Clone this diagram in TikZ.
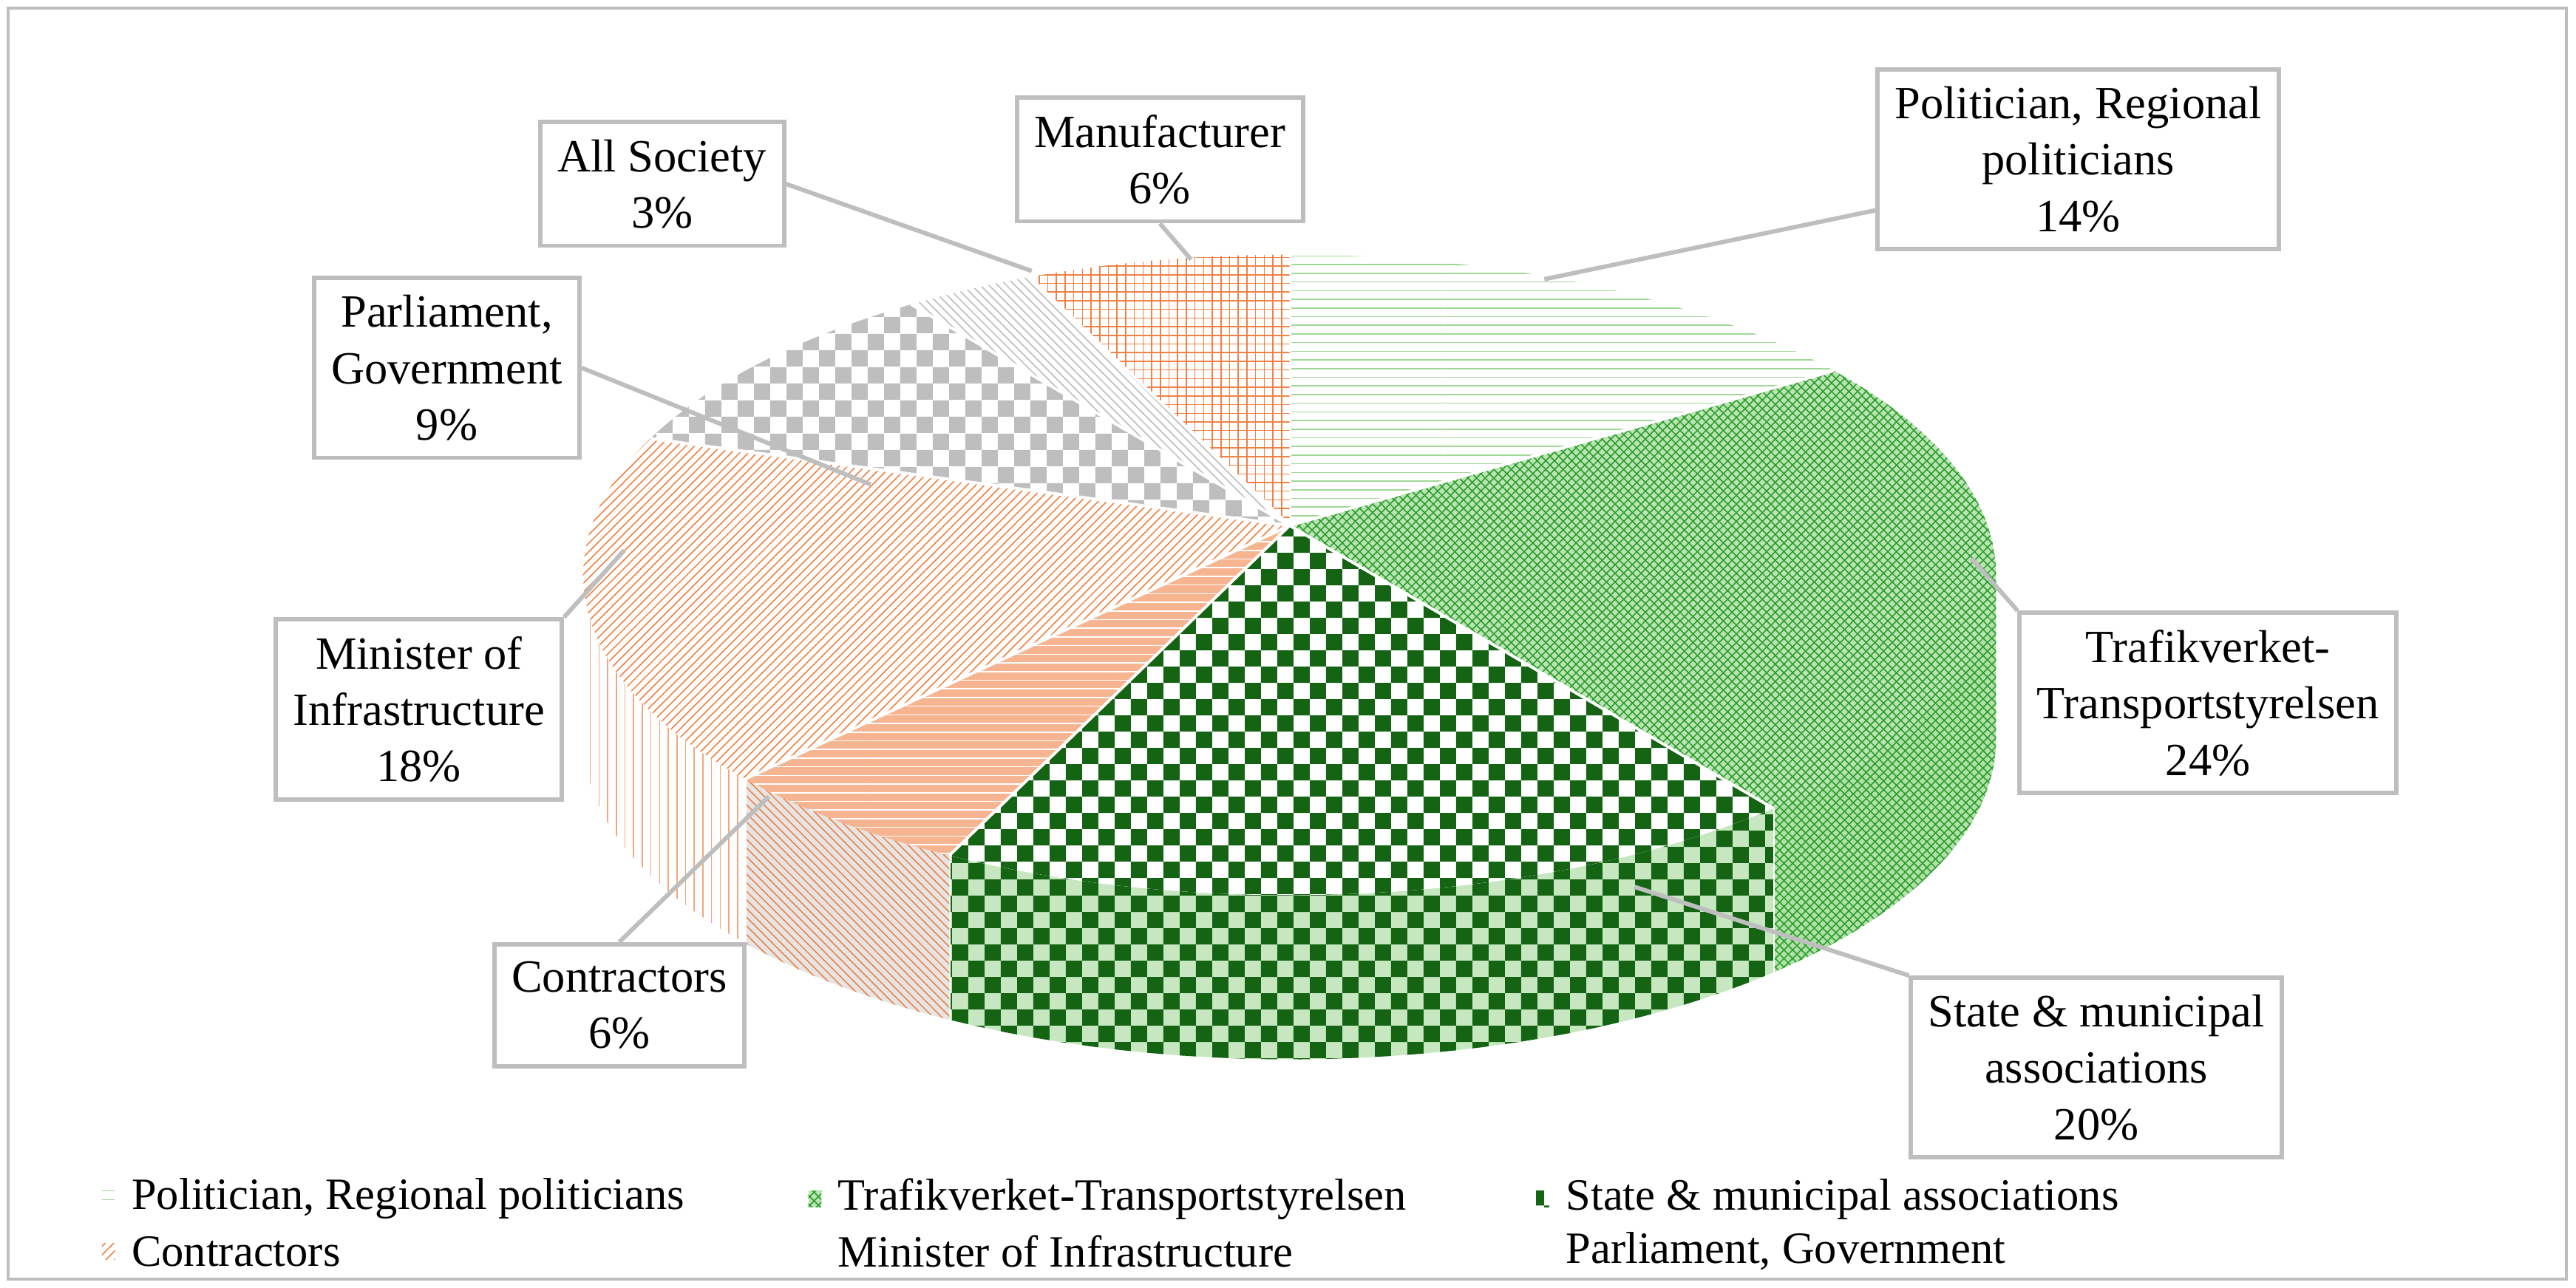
\documentclass[tikz,border=0pt]{standalone}
\usepackage{fontspec}
\setmainfont{Liberation Serif}
\usetikzlibrary{patterns}
\definecolor{lg}{RGB}{160,215,150}
\definecolor{mg}{RGB}{40,160,40}
\definecolor{dg}{RGB}{20,100,20}
\definecolor{org}{RGB}{240,130,70}
\definecolor{gr}{RGB}{190,190,190}
\begin{document}
\begin{tikzpicture}[x=0.02cm,y=-0.02cm,
  lbl/.style={draw=gr,line width=1.5pt,fill=white,align=center,font=\fontsize{16}{19.5}\selectfont,inner sep=6pt},
  lead/.style={draw=gr,line width=1.5pt},
  leg/.style={anchor=west,font=\fontsize{15.5}{17}\selectfont},
  edge/.style={draw=white,line width=1pt}]
\useasboundingbox (0,0) rectangle (1568,784);
\draw[gr,line width=1pt] (5,5) rectangle (1562,779);
\def\E#1#2{({785+430*cos(#1)},{350-195*sin(#1)+#2})}
\newcommand\side[4]{%
  \fill[#3] plot[domain=#1:#2,samples=30] ({785+430*cos(\x)},{350-195*sin(\x)})
   -- plot[domain=#1:#2,samples=30] ({785+430*cos(#1+#2-\x)},{350-195*sin(#1+#2-\x)+100}) -- cycle;
  \fill[#4] plot[domain=#1:#2,samples=30] ({785+430*cos(\x)},{350-195*sin(\x)})
   -- plot[domain=#1:#2,samples=30] ({785+430*cos(#1+#2-\x)},{350-195*sin(#1+#2-\x)+100}) -- cycle;
  \draw[edge] \E{#1}{0} -- \E{#1}{100};}
\side{-46.8}{0}{lg!80}{pattern=crosshatch,pattern color=mg}
\side{-118.8}{-46.8}{lg!60}{pattern=checkerboard,pattern color=dg}
\side{-140.4}{-118.8}{gr!40}{pattern=north west lines,pattern color=org}
\side{-180}{-140.4}{white}{pattern=vertical lines,pattern color=org!70}
\newcommand\slice[4]{%
  \fill[#3] (785,320) -- plot[domain=#1:#2,samples=40] ({785+430*cos(\x)},{350-195*sin(\x)}) -- cycle;
  \fill[#4] (785,320) -- plot[domain=#1:#2,samples=40] ({785+430*cos(\x)},{350-195*sin(\x)}) -- cycle;
  \draw[edge] (785,320) -- \E{#2}{0};}
\slice{39.6}{90}{white}{pattern=horizontal lines,pattern color=lg}
\slice{-46.8}{39.6}{lg!70}{pattern=crosshatch,pattern color=mg}
\slice{-118.8}{-46.8}{white}{pattern=checkerboard,pattern color=dg}
\slice{-140.4}{-118.8}{org!60}{pattern=horizontal lines,pattern color=white}
\slice{-205.2}{-140.4}{white}{pattern=north east lines,pattern color=org}
\slice{-237.6}{-205.2}{white}{pattern=checkerboard,pattern color=gr}
\slice{-248.4}{-237.6}{white}{pattern=north west lines,pattern color=gr}
\slice{-270}{-248.4}{white}{pattern=grid,pattern color=org}
\node[lbl] (man) at (706,97) {Manufacturer\\6\%};
\node[lbl] (pol) at (1265,97) {Politician, Regional\\politicians\\14\%};
\node[lbl] (all) at (403,112) {All Society\\3\%};
\node[lbl] (par) at (272,224) {Parliament,\\Government\\9\%};
\node[lbl] (min) at (255,432) {Minister of\\Infrastructure\\18\%};
\node[lbl] (con) at (377,612) {Contractors\\6\%};
\node[lbl] (tra) at (1344,428) {Trafikverket-\\Transportstyrelsen\\24\%};
\node[lbl] (sta) at (1276,650) {State \& municipal\\associations\\20\%};
\coordinate (pman) at (725,158);
\coordinate (ppol) at (940,170);
\coordinate (pall) at (628,165);
\coordinate (ppar) at (530,295);
\coordinate (pmin) at (380,335);
\coordinate (pcon) at (468,485);
\coordinate (ptra) at (1200,340);
\coordinate (psta) at (995,540);
\draw[lead] (man.south) -- (pman);
\draw[lead] (pol.south west) ++(0,-25) -- (ppol);
\draw[lead] (all.east) -- (pall);
\draw[lead] (par.east) -- (ppar);
\draw[lead] (min.north east) -- (pmin);
\draw[lead] (con.north) -- (pcon);
\draw[lead] (tra.north west) -- (ptra);
\draw[lead] (sta.north west) -- (psta);
\fill[pattern=horizontal lines,pattern color=lg] (62,725) rectangle (70,735);
\node[leg] (l1) at (74,730) {Politician, Regional politicians};
\fill[lg!70] (492,725) rectangle (500,735);
\fill[pattern=crosshatch,pattern color=mg] (492,725) rectangle (500,735);
\node[leg] (l2) at (504,730) {Trafikverket-Transportstyrelsen};
\fill[pattern=checkerboard,pattern color=dg] (935,725) rectangle (943,735);
\node[leg] (l3) at (947,730) {State \& municipal associations};
\fill[pattern=north east lines,pattern color=org] (62,757) rectangle (70,767);
\node[leg] (l4) at (74,762) {Contractors};
\node[leg] (l5) at (504,762) {Minister of Infrastructure};
\node[leg] (l6) at (947,762) {Parliament, Government};
\end{tikzpicture}
\end{document}
